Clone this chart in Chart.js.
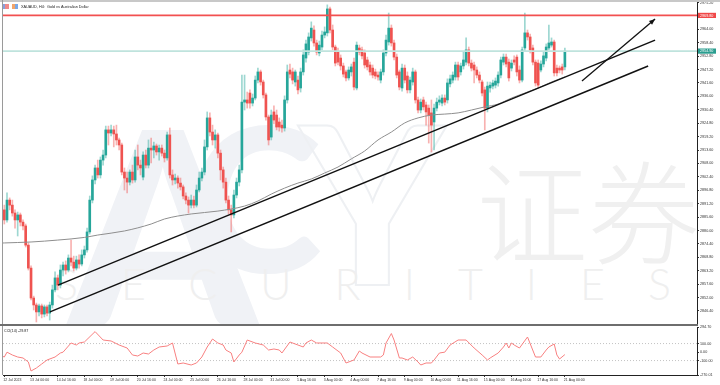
<!DOCTYPE html>
<html>
<head>
<meta charset="utf-8">
<title>XAUAUD H4</title>
<script src="https://cdn.jsdelivr.net/npm/chart.js@4.4.1/dist/chart.umd.min.js"></script>
<style>
  html, body { margin: 0; padding: 0; background: #fff; }
  #wrap { position: relative; width: 720px; height: 385px; overflow: hidden; background: #fff; }
  .wm { position: absolute; line-height: 1; white-space: nowrap; }
  canvas { position: absolute; left: 0; }
  .rule { position: absolute; }
</style>
</head>
<body>
<div id="wrap">
  <div class="wm" style="left:68px;top:60px;font:900 270px Lato,sans-serif;color:#f0f2f6;">A</div>
  <div class="wm" style="left:190px;top:75px;font:900 200px Lato,sans-serif;color:#f0f2f6;">C</div>
  <div class="wm" style="left:300px;top:68px;font:900 220px Lato,sans-serif;color:transparent;-webkit-text-stroke:2px #eef0f3;">Y</div>
  <div class="wm" style="left:476px;top:126px;font:300 112px 'Noto Sans CJK SC',sans-serif;color:#f0f0f0;">证券</div>
  <div class="wm" style="left:55px;top:258px;font:300 43px Lato,sans-serif;letter-spacing:43px;color:#efefef;">SECURITIES</div>
  <canvas id="priceChart" width="720" height="327" style="top:0"></canvas>
  <canvas id="cciChart" width="720" height="60" style="top:325px"></canvas>
  <div class="rule" style="left:0;top:0;width:720px;height:2px;background:#c8c8c8"></div>
  <div class="rule" style="left:2px;top:0;width:1px;height:375px;background:#9a9a9a"></div>
  <div class="rule" style="left:0;top:324px;width:698px;height:2px;background:#6e6e6e"></div>
</div>
<script>
const symbolTitle = 'XAUAUD, H4:  Gold vs Australian Dollar';
const cciTitle = 'CCI(14) -29.87';

// x axis labels, one every 10 bars
const timeLabels = ['12 Jul 2023', '13 Jul 00:00', '14 Jul 16:00', '18 Jul 00:00', '19 Jul 00:00', '20 Jul 16:00',
  '24 Jul 00:00', '25 Jul 00:00', '26 Jul 16:00', '28 Jul 00:00', '31 Jul 00:00', '1 Aug 16:00', '3 Aug 00:00',
  '4 Aug 00:00', '7 Aug 16:00', '9 Aug 00:00', '10 Aug 00:00', '11 Aug 16:00', '15 Aug 00:00', '16 Aug 16:00',
  '17 Aug 16:00', '21 Aug 00:00'];
const timeTickIndex = [0, 10, 20, 30, 40, 50, 60, 70, 80, 90, 100, 110, 120, 130, 140, 150, 160, 170, 180, 190, 200, 210];

const priceTickLabels = ['2975.20', '2969.60', '2964.00', '2958.40', '2952.80', '2947.20', '2941.60', '2936.00',
  '2930.40', '2924.80', '2919.20', '2913.60', '2908.00', '2902.40', '2896.80', '2891.20', '2885.60', '2880.00',
  '2874.40', '2868.80', '2863.20', '2857.60', '2852.00', '2846.40'];
const cciTickLabels = ['294.70', '100.00', '0.00', '-100.00', '-270.01'];

// H4 candles
const opens = [
  2888.6, 2884.4, 2892.7, 2890.6, 2887.3, 2884.4, 2886.5, 2883.5, 2881.9, 2873.9,
  2864.3, 2851.8, 2848.9, 2846.0, 2848.5, 2845.1, 2848.1, 2845.5, 2848.9, 2855.2,
  2860.2, 2857.2, 2863.5, 2865.6, 2863.5, 2868.5, 2866.8, 2864.3, 2867.7, 2866.0,
  2869.8, 2871.9, 2879.4, 2892.7, 2901.1, 2906.1, 2903.2, 2909.4, 2911.5, 2922.0,
  2920.7, 2922.0, 2920.3, 2917.8, 2915.7, 2904.4, 2901.9, 2900.2, 2904.4, 2901.1,
  2910.7, 2907.3, 2902.3, 2911.5, 2907.3, 2914.4, 2913.6, 2915.3, 2912.8, 2914.4,
  2912.3, 2910.3, 2919.9, 2903.2, 2901.1, 2901.9, 2899.8, 2898.2, 2894.4, 2892.7,
  2890.6, 2892.7, 2890.6, 2896.9, 2901.9, 2904.4, 2914.9, 2927.0, 2921.1, 2917.8,
  2919.9, 2912.3, 2905.3, 2900.2, 2892.7, 2888.6, 2886.5, 2894.8, 2900.2, 2905.3,
  2933.6, 2934.5, 2937.4, 2933.2, 2935.3, 2942.8, 2946.2, 2942.0, 2936.6, 2927.4,
  2919.0, 2929.5, 2928.2, 2925.3, 2924.0, 2922.8, 2934.5, 2947.0, 2946.2, 2942.0,
  2942.8, 2939.5, 2946.2, 2952.0, 2954.5, 2960.4, 2963.7, 2958.3, 2954.1, 2956.6,
  2961.6, 2962.5, 2972.5, 2963.7, 2956.6, 2954.5, 2952.0, 2948.7, 2946.2, 2943.7,
  2946.2, 2950.3, 2939.5, 2956.2, 2955.4, 2954.1, 2951.2, 2949.1, 2947.8, 2946.2,
  2944.9, 2942.8, 2946.2, 2954.1, 2958.7, 2964.5, 2958.3, 2952.4, 2946.2, 2939.5,
  2947.8, 2944.5, 2938.7, 2942.0, 2946.2, 2934.5, 2930.3, 2934.5, 2932.4, 2931.1,
  2929.1, 2925.3, 2931.1, 2933.6, 2933.2, 2935.3, 2934.5, 2941.2, 2942.8, 2944.1,
  2949.1, 2946.2, 2948.7, 2950.3, 2955.4, 2949.9, 2949.1, 2947.0, 2944.9, 2942.0,
  2938.7, 2931.1, 2939.5, 2940.3, 2940.7, 2941.6, 2944.9, 2950.3, 2952.4, 2950.3,
  2947.8, 2951.2, 2952.4, 2947.0, 2942.8, 2956.2, 2962.5, 2960.8, 2956.2, 2950.3,
  2949.9, 2947.0, 2949.5, 2952.0, 2956.2, 2957.4, 2958.7, 2947.8, 2947.8, 2948.3,
  2948.3
];
const highs = [
  2890.6, 2895.7, 2893.6, 2892.7, 2888.6, 2887.7, 2887.3, 2884.4, 2882.7, 2874.8,
  2865.2, 2852.6, 2849.7, 2849.3, 2849.3, 2848.9, 2848.9, 2850.1, 2857.2, 2862.7,
  2861.4, 2865.6, 2866.8, 2867.3, 2869.8, 2876.0, 2869.3, 2869.3, 2869.8, 2871.9,
  2873.5, 2881.0, 2894.4, 2902.8, 2907.3, 2909.4, 2910.7, 2913.6, 2923.6, 2923.6,
  2924.0, 2923.6, 2924.0, 2918.6, 2916.5, 2906.1, 2904.4, 2905.3, 2907.3, 2913.6,
  2915.7, 2909.4, 2912.8, 2913.6, 2917.8, 2918.6, 2916.9, 2916.1, 2915.7, 2915.7,
  2913.6, 2921.1, 2922.8, 2905.3, 2903.6, 2902.8, 2901.9, 2899.0, 2895.7, 2894.0,
  2894.8, 2894.4, 2899.0, 2904.4, 2906.1, 2917.8, 2929.5, 2929.1, 2924.0, 2922.0,
  2920.7, 2913.6, 2906.5, 2901.9, 2894.4, 2890.6, 2896.9, 2901.9, 2907.3, 2944.9,
  2944.9, 2937.8, 2938.7, 2937.0, 2944.5, 2947.8, 2947.0, 2942.8, 2937.4, 2928.2,
  2930.3, 2932.0, 2930.3, 2927.0, 2926.1, 2936.2, 2949.1, 2949.5, 2947.8, 2947.0,
  2944.5, 2947.8, 2955.4, 2959.5, 2962.5, 2967.1, 2965.4, 2959.5, 2959.1, 2963.3,
  2965.0, 2974.2, 2973.3, 2965.8, 2957.4, 2956.2, 2953.3, 2949.9, 2947.0, 2948.3,
  2949.5, 2952.0, 2958.7, 2957.4, 2956.6, 2955.4, 2952.4, 2950.3, 2949.1, 2947.4,
  2946.2, 2947.4, 2955.4, 2961.6, 2970.8, 2965.8, 2959.5, 2953.7, 2947.0, 2949.5,
  2949.1, 2946.2, 2944.1, 2947.8, 2947.0, 2935.7, 2934.9, 2935.7, 2933.6, 2932.4,
  2934.5, 2932.8, 2935.3, 2936.2, 2936.6, 2936.6, 2943.3, 2944.9, 2946.2, 2950.3,
  2950.3, 2949.9, 2954.5, 2960.4, 2956.6, 2951.2, 2950.3, 2948.3, 2946.2, 2942.8,
  2939.9, 2942.0, 2942.0, 2942.8, 2943.7, 2946.2, 2952.4, 2953.7, 2953.7, 2951.6,
  2951.2, 2952.9, 2953.3, 2948.7, 2956.6, 2970.8, 2963.7, 2962.0, 2957.4, 2951.2,
  2951.2, 2950.8, 2954.5, 2957.9, 2965.8, 2960.4, 2959.5, 2949.1, 2948.7, 2949.5,
  2956.2
];
const lows = [
  2882.7, 2883.5, 2888.6, 2886.0, 2881.0, 2877.7, 2881.9, 2880.2, 2873.1, 2863.5,
  2851.0, 2846.8, 2841.8, 2844.3, 2843.5, 2843.9, 2844.3, 2842.6, 2847.6, 2854.3,
  2855.2, 2856.0, 2861.0, 2861.8, 2862.7, 2865.2, 2863.1, 2863.5, 2864.3, 2865.2,
  2868.5, 2871.0, 2878.5, 2891.5, 2899.4, 2901.9, 2901.9, 2907.3, 2910.3, 2915.7,
  2919.5, 2914.9, 2915.7, 2913.6, 2903.2, 2896.9, 2895.7, 2899.0, 2899.8, 2900.2,
  2905.3, 2903.2, 2901.1, 2906.1, 2906.1, 2908.2, 2910.3, 2911.5, 2909.4, 2911.1,
  2908.6, 2909.4, 2901.9, 2899.0, 2899.4, 2897.7, 2896.9, 2893.2, 2891.1, 2887.3,
  2889.4, 2889.4, 2889.8, 2896.1, 2900.7, 2903.2, 2913.6, 2919.5, 2915.7, 2914.4,
  2910.3, 2901.1, 2897.7, 2891.5, 2886.9, 2879.4, 2885.2, 2893.6, 2898.6, 2904.0,
  2930.3, 2931.1, 2931.1, 2932.0, 2934.5, 2941.6, 2940.7, 2935.3, 2926.1, 2915.7,
  2917.8, 2924.5, 2922.0, 2921.5, 2921.1, 2921.5, 2933.2, 2943.7, 2941.2, 2940.3,
  2937.0, 2937.8, 2944.9, 2950.3, 2953.3, 2959.1, 2957.0, 2953.3, 2952.9, 2955.4,
  2960.4, 2961.2, 2962.5, 2955.4, 2948.7, 2949.1, 2947.0, 2944.1, 2942.4, 2942.8,
  2944.5, 2938.7, 2938.7, 2953.3, 2951.6, 2947.8, 2947.0, 2944.9, 2943.7, 2943.3,
  2942.8, 2941.6, 2944.9, 2952.9, 2957.4, 2957.0, 2951.2, 2943.7, 2938.7, 2938.2,
  2941.6, 2937.4, 2937.4, 2940.7, 2933.2, 2929.1, 2929.1, 2930.3, 2924.0, 2916.5,
  2912.8, 2913.6, 2929.9, 2932.4, 2932.0, 2932.4, 2933.2, 2939.9, 2941.6, 2942.8,
  2942.8, 2944.9, 2947.4, 2949.1, 2948.7, 2946.6, 2941.6, 2943.7, 2941.6, 2936.2,
  2922.0, 2929.5, 2937.8, 2939.1, 2939.5, 2940.3, 2943.7, 2949.1, 2948.3, 2942.4,
  2946.6, 2949.1, 2944.5, 2941.6, 2942.0, 2954.9, 2959.5, 2954.1, 2949.1, 2940.3,
  2939.5, 2946.2, 2948.3, 2950.8, 2955.4, 2956.6, 2944.5, 2944.5, 2945.8, 2945.3,
  2947.0
];
const closes = [
  2884.4, 2892.7, 2890.6, 2887.3, 2884.4, 2886.5, 2883.5, 2881.9, 2873.9, 2864.3,
  2851.8, 2848.9, 2846.0, 2848.5, 2845.1, 2848.1, 2845.5, 2848.9, 2855.2, 2860.2,
  2857.2, 2863.5, 2865.6, 2863.5, 2868.5, 2866.8, 2864.3, 2867.7, 2866.0, 2869.8,
  2871.9, 2879.4, 2892.7, 2901.1, 2906.1, 2903.2, 2909.4, 2911.5, 2922.0, 2920.7,
  2922.0, 2920.3, 2917.8, 2915.7, 2904.4, 2901.9, 2900.2, 2904.4, 2901.1, 2910.7,
  2907.3, 2906.1, 2911.5, 2907.3, 2914.4, 2913.6, 2915.3, 2912.8, 2914.4, 2912.3,
  2910.3, 2919.9, 2903.2, 2901.1, 2901.9, 2899.8, 2898.2, 2894.4, 2892.7, 2890.6,
  2892.7, 2890.6, 2896.9, 2901.9, 2904.4, 2914.9, 2927.0, 2921.1, 2917.8, 2919.9,
  2912.3, 2905.3, 2900.2, 2892.7, 2888.6, 2886.5, 2894.8, 2900.2, 2905.3, 2933.6,
  2934.5, 2933.2, 2933.2, 2935.3, 2942.8, 2946.2, 2942.0, 2936.6, 2927.4, 2917.8,
  2928.2, 2926.1, 2923.2, 2923.2, 2922.8, 2934.5, 2946.2, 2945.3, 2942.8, 2946.2,
  2938.7, 2946.2, 2953.3, 2957.9, 2960.8, 2964.5, 2958.3, 2954.5, 2957.4, 2961.6,
  2962.9, 2972.5, 2963.7, 2956.6, 2949.9, 2950.3, 2948.7, 2945.3, 2943.7, 2947.0,
  2948.3, 2939.9, 2957.4, 2954.5, 2952.9, 2949.1, 2948.3, 2946.2, 2944.9, 2944.5,
  2944.1, 2946.2, 2954.1, 2959.5, 2964.5, 2958.3, 2952.4, 2944.9, 2939.9, 2947.8,
  2942.8, 2938.7, 2942.8, 2946.2, 2934.5, 2930.3, 2933.6, 2931.6, 2929.5, 2928.2,
  2924.0, 2931.1, 2933.6, 2934.5, 2935.3, 2933.6, 2941.6, 2943.3, 2944.9, 2949.1,
  2944.1, 2948.7, 2951.2, 2955.4, 2949.9, 2947.8, 2947.0, 2944.9, 2942.8, 2937.4,
  2931.1, 2940.3, 2940.7, 2941.6, 2942.4, 2944.9, 2951.2, 2952.4, 2949.5, 2943.7,
  2949.9, 2950.3, 2946.2, 2942.8, 2955.4, 2962.5, 2960.8, 2955.4, 2950.3, 2941.6,
  2940.7, 2949.5, 2952.9, 2956.6, 2958.3, 2958.7, 2945.8, 2945.8, 2947.0, 2947.0,
  2954.9
];

// moving average (grey line), read at selected bars
const maIndex = [-2, 0, 10, 20, 30, 35, 45, 55, 60, 70, 80, 90, 95, 100, 105, 110, 115, 120, 125, 130,
  135, 140, 145, 150, 155, 160, 165, 170, 175, 180, 185, 190, 195, 200, 205, 210];
const maValues = [2874.7, 2874.8, 2875.2, 2876.0, 2877.1, 2878.1, 2879.8, 2882.7, 2884.8, 2886.9,
  2888.1, 2890.2, 2892.3, 2895.2, 2897.7, 2899.8, 2901.5, 2904.0, 2906.5, 2909.9,
  2913.2, 2917.8, 2921.1, 2924.9, 2927.0, 2928.2, 2928.6, 2929.1, 2930.3, 2931.6,
  2932.8, 2935.3, 2937.4, 2939.5, 2942.0, 2944.1];

// CCI(14)
const cciIndex = [-2, 0, 1, 3, 5, 7, 9, 10, 12, 14, 16, 19, 21, 22, 25, 27, 28, 30, 34, 37,
  40, 43, 46, 48, 50, 52, 54, 56, 58, 61, 63, 65, 67, 70, 72, 74, 76, 78, 80, 82,
  83, 85, 86, 88, 89, 91, 94, 97, 99, 101, 103, 104, 107, 110, 112, 113, 115, 117, 121, 123,
  126, 128, 130, 131, 133, 134, 137, 141, 142, 143, 145, 146, 148, 149, 151, 153, 155, 156, 158, 160,
  161, 163, 165, 167, 170, 173, 176, 179, 181, 182, 185, 187, 188, 189, 190, 191, 193, 196, 199, 201,
  203, 204, 206, 207, 208, 210];
const cciValues = [-34.7, -58.3, -1.4, -34.7, -58.3, -70.0, -117.1, -223.0, -187.7, -140.6,
  -93.5, -58.3, -11.2, -1.4, 106.5, 82.9, 106.5, 118.2, 240.6, 141.7,
  130.0, 82.9, 47.6, -34.7, -46.5, -11.2, -23.0, 24.1, 59.4, 71.2,
  106.5, -140.6, -128.8, -152.4, -128.8, -58.3, 59.4, 153.5, 106.5, 82.9,
  24.1, -11.2, -117.1, -34.7, -1.4, 141.7, 106.5, 82.9, 24.1, 35.9,
  24.1, -11.2, 118.2, 82.9, 59.4, 106.5, 141.7, 106.5, 106.5, 59.4,
  -11.2, -128.8, -105.3, -93.5, 12.3, -11.2, -58.3, -58.3, -34.7, 106.5,
  218.2, 141.7, -70.0, -70.0, -93.5, -58.3, -117.1, -152.4, -128.8, -128.8,
  -93.5, -11.2, -1.4, 82.9, 141.7, 141.7, 47.6, -34.7, -93.5, -70.0,
  -11.2, 59.4, 106.5, 47.6, 106.5, 82.9, 47.6, 177.1, -58.3, -58.3,
  24.1, 59.4, 94.7, -34.7, -81.8, -29.87];
const cciLevels = [100, -100];

// drawn objects: levels and trend lines [barIndex, price]
const resistanceLevel = 2969.80;
const upperTrend = [[20.1, 2857.2], [243.8, 2959.5]];
const lowerTrend = [[17.1, 2846.0], [241.2, 2948.7]];
const arrowTrend = [[216.4, 2942.4], [243.8, 2968.3]];

const GREEN = '#26a69a', RED = '#ef5350';
const GREEN_WICK = 'rgba(38,166,154,0.45)', RED_WICK = 'rgba(239,83,80,0.45)';
const FONT = "'Liberation Sans', Arial, sans-serif";
const X_MIN = -0.5, X_MAX = 259.5;
const lastPrice = closes[closes.length - 1];

function isUp(i) {
    return closes[i] >= opens[i];
}

function toPoints(pairs) {
    return pairs.map(p => ({x: p[0], y: p[1]}));
}

function flatLine(value) {
    return [{x: X_MIN, y: value}, {x: X_MAX, y: value}];
}

// keep axis boxes at a fixed size so the plot area lines up with the picture
function fixSize(size, horizontal) {
    return scale => {
        if (horizontal) scale.height = size; else scale.width = size;
        scale.paddingTop = 0;
        scale.paddingBottom = 0;
        scale.paddingLeft = 0;
        scale.paddingRight = 0;
    };
}

function drawTag(ctx, y, text, color, left) {
    ctx.fillStyle = color;
    ctx.fillRect(left + 1, y - 2.6, 18, 5.2);
    ctx.fillStyle = '#fff';
    ctx.font = `3.7px ${FONT}`;
    ctx.textBaseline = 'middle';
    ctx.textAlign = 'left';
    ctx.fillText(text, left + 3, y + 0.2);
}

const priceOverlay = {
    id: 'priceOverlay',
    afterDraw(chart) {
        const ctx = chart.ctx;
        const area = chart.chartArea;
        const yScale = chart.scales.y;
        ctx.save();

        // symbol icons and title
        ctx.fillStyle = '#ef8a8a'; ctx.fillRect(3, 4, 6, 5);
        ctx.fillStyle = '#8aa0dc'; ctx.fillRect(3, 4, 2, 5);
        ctx.fillStyle = '#f3a56a'; ctx.fillRect(12, 4, 6, 5);
        ctx.fillStyle = '#7aa8e6'; ctx.fillRect(15, 4, 3, 5);
        ctx.fillStyle = '#222';
        ctx.font = `3.8px ${FONT}`;
        ctx.textBaseline = 'middle';
        ctx.fillText(symbolTitle, 21, 6.5);

        // arrow head at the end of the arrow line
        const meta = chart.data.datasets.findIndex(d => d.label === 'arrow');
        const pts = chart.getDatasetMeta(meta).data;
        if (pts.length === 2) {
            const a = Math.atan2(pts[1].y - pts[0].y, pts[1].x - pts[0].x);
            const len = 6, half = 2.4;
            ctx.fillStyle = '#111';
            ctx.beginPath();
            ctx.moveTo(pts[1].x, pts[1].y);
            ctx.lineTo(pts[1].x - len * Math.cos(a) + half * Math.sin(a), pts[1].y - len * Math.sin(a) - half * Math.cos(a));
            ctx.lineTo(pts[1].x - len * Math.cos(a) - half * Math.sin(a), pts[1].y - len * Math.sin(a) + half * Math.cos(a));
            ctx.closePath();
            ctx.fill();
        }

        // price tags on the axis
        drawTag(ctx, yScale.getPixelForValue(resistanceLevel), resistanceLevel.toFixed(2), '#f04848', area.right);
        drawTag(ctx, yScale.getPixelForValue(lastPrice), lastPrice.toFixed(2), '#2a9d8f', area.right);
        ctx.restore();
    }
};

const cciOverlay = {
    id: 'cciOverlay',
    afterDraw(chart) {
        const ctx = chart.ctx;
        ctx.save();
        ctx.fillStyle = '#222';
        ctx.font = `3.7px ${FONT}`;
        ctx.textBaseline = 'middle';
        ctx.fillText(cciTitle, 4, 6);
        ctx.restore();
    }
};

function priceChart() {
    const bars = opens.map((_, i) => i);
    const datasets = [
        {
            type: 'bar', label: 'wicks', order: 6, grouped: false, barThickness: 1,
            data: bars.map(i => ({x: i, y: [lows[i], highs[i]]})),
            backgroundColor: ctx => isUp(ctx.dataIndex) ? GREEN_WICK : RED_WICK,
        },
        {
            type: 'bar', label: 'bodies', order: 5, grouped: false, barThickness: 2, minBarLength: 1,
            data: bars.map(i => ({x: i, y: [opens[i], closes[i]]})),
            backgroundColor: ctx => isUp(ctx.dataIndex) ? GREEN : RED,
        },
        {
            type: 'line', label: 'ma', order: 4,
            data: maIndex.map((x, k) => ({x, y: maValues[k]})),
            borderColor: '#8e8e8e', borderWidth: 1, pointRadius: 0, cubicInterpolationMode: 'monotone',
        },
        {
            type: 'line', label: 'resistance', order: 3, data: flatLine(resistanceLevel),
            borderColor: '#f25050', borderWidth: 1.6, pointRadius: 0,
        },
        {
            type: 'line', label: 'last', order: 3, data: flatLine(lastPrice),
            borderColor: '#bfe3dd', borderWidth: 1.6, pointRadius: 0,
        },
        {
            type: 'line', label: 'upper', order: 2, data: toPoints(upperTrend),
            borderColor: '#111', borderWidth: 1.5, pointRadius: 0,
        },
        {
            type: 'line', label: 'lower', order: 2, data: toPoints(lowerTrend),
            borderColor: '#111', borderWidth: 1.5, pointRadius: 0,
        },
        {
            type: 'line', label: 'arrow', order: 1, data: toPoints(arrowTrend),
            borderColor: '#111', borderWidth: 1.3, pointRadius: 0,
        },
    ];

    const options = {
        responsive: false,
        animation: false,
        devicePixelRatio: 1,
        events: [],
        layout: {padding: {left: 3, top: 2, right: 0, bottom: 2}},
        plugins: {legend: {display: false}, tooltip: {enabled: false}},
        scales: {
            x: {type: 'linear', min: X_MIN, max: X_MAX, offset: false, display: false},
            y: {
                type: 'linear', position: 'right', min: 2840.54, max: 2975.40,
                afterBuildTicks: s => { s.ticks = priceTickLabels.map(t => ({value: parseFloat(t)})); },
                afterFit: fixSize(23, false),
                grid: {drawOnChartArea: false, drawTicks: true, tickLength: 2, tickColor: '#333'},
                border: {display: true, color: '#222', width: 1},
                ticks: {
                    autoSkip: false, padding: 1, color: '#333',
                    font: {size: 3.7, family: FONT, lineHeight: 1},
                    callback: (v, idx) => priceTickLabels[idx],
                },
            },
        },
    };

    return new Chart(document.getElementById('priceChart'), {
        type: 'bar', data: {datasets}, options, plugins: [priceOverlay],
    });
}

function cciChart() {
    const datasets = [
        {
            type: 'line', label: 'cci',
            data: cciIndex.map((x, k) => ({x, y: cciValues[k]})),
            borderColor: '#f88080', borderWidth: 1, pointRadius: 0,
        },
        ...cciLevels.map(v => ({
            type: 'line', label: 'level ' + v, data: flatLine(v),
            borderColor: '#c4c4c4', borderWidth: 1, borderDash: [1, 2], pointRadius: 0,
        })),
    ];

    const options = {
        responsive: false,
        animation: false,
        devicePixelRatio: 1,
        events: [],
        layout: {padding: {left: 3, top: 2, right: 0, bottom: 0}},
        plugins: {legend: {display: false}, tooltip: {enabled: false}},
        scales: {
            x: {
                type: 'linear', position: 'bottom', min: X_MIN, max: X_MAX, offset: false,
                afterBuildTicks: s => { s.ticks = timeTickIndex.map(v => ({value: v})); },
                afterFit: fixSize(10, true),
                grid: {drawOnChartArea: false, drawTicks: true, tickLength: 2, tickColor: '#333'},
                border: {display: true, color: '#222', width: 1},
                ticks: {
                    autoSkip: false, maxRotation: 0, align: 'start', padding: 1, labelOffset: -1,
                    color: '#333', font: {size: 3.5, family: FONT, lineHeight: 1},
                    callback: (v, idx) => timeLabels[idx],
                },
            },
            y: {
                type: 'linear', position: 'right', min: -270.01, max: 294.70,
                afterBuildTicks: s => { s.ticks = cciTickLabels.map(t => ({value: parseFloat(t)})); },
                afterFit: fixSize(23, false),
                grid: {drawOnChartArea: false, drawTicks: true, tickLength: 2, tickColor: '#333'},
                border: {display: true, color: '#222', width: 1},
                ticks: {
                    autoSkip: false, padding: 1, color: '#333',
                    font: {size: 3.7, family: FONT, lineHeight: 1},
                    callback: (v, idx) => cciTickLabels[idx],
                },
            },
        },
    };

    return new Chart(document.getElementById('cciChart'), {
        type: 'line', data: {datasets}, options, plugins: [cciOverlay],
    });
}

priceChart();
cciChart();
</script>
</body>
</html>
